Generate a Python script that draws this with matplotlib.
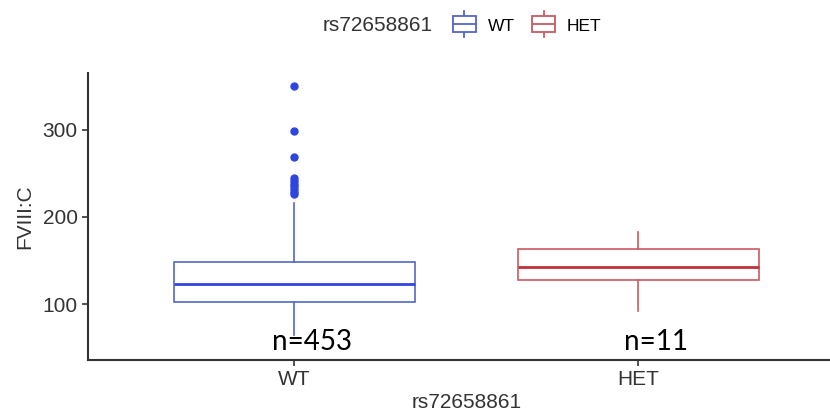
import matplotlib
matplotlib.use("Agg")
import matplotlib.pyplot as plt
from matplotlib.legend_handler import HandlerBase
from matplotlib.patches import Rectangle
from matplotlib.lines import Line2D

# data
groups = ["WT", "HET"]
counts = [453, 11]
whislo = [65, 92]
q1 = [102, 127.5]
med = [123, 143]
q3 = [148, 163]
whishi = [216, 183]
fliers_wt = [350, 299, 269, 244, 241, 238, 235, 232, 229, 226]
fliers_het = []

edge_cols = ["#5566C8", "#CC5A62"]
line_cols = ["#2F45E0", "#C0303A"]

plt.rcParams['font.family'] = ['Liberation Sans', 'DejaVu Sans']

fig = plt.figure(figsize=(8.3, 4.17), dpi=100)
ax = fig.add_axes([0.106, 0.137, 0.912, 0.688])

fliers = [fliers_wt, fliers_het]
for i in range(len(groups)):
    st = dict(whislo=whislo[i], q1=q1[i], med=med[i], q3=q3[i],
              whishi=whishi[i], fliers=fliers[i], label=groups[i])
    ax.bxp([st], positions=[i + 1], widths=0.7, patch_artist=True,
           showcaps=False,
           boxprops=dict(facecolor="white", edgecolor=edge_cols[i], linewidth=1.2),
           whiskerprops=dict(color=edge_cols[i], linewidth=1.2),
           medianprops=dict(color=line_cols[i], linewidth=2.0),
           flierprops=dict(marker="o", markersize=5, markerfacecolor=line_cols[i],
                           markeredgecolor=line_cols[i]))
    ax.text(i + 1 + 0.05, 56, "n=%d" % counts[i], ha="center", va="center",
            fontsize=20, family=["Lato", "DejaVu Sans"], color="black", zorder=5)

ax.set_xlim(0.4, 2.6)
ax.set_ylim(36, 365)
ax.set_xticks([1, 2])
ax.set_xticklabels(groups)
ax.set_yticks([100, 200, 300])
ax.tick_params(axis="both", labelsize=15, colors="#333333", length=4, width=1.2,
               labelcolor="#333333")
for s in ["top", "right"]:
    ax.spines[s].set_visible(False)
for s in ["left", "bottom"]:
    ax.spines[s].set_linewidth(1.5)
    ax.spines[s].set_color("#333333")
ax.set_ylabel("FVIII:C", fontsize=15, color="#333333", labelpad=6)
ax.set_xlabel("rs72658861", fontsize=15, color="#333333", labelpad=3)


class BoxKey(HandlerBase):
    def create_artists(self, legend, orig_handle, xd, yd, width, height, fontsize, trans):
        c = orig_handle.get_color()
        cy = yd + height / 2
        r = Rectangle((xd, cy - 0.6 * height), width, 1.2 * height,
                      facecolor="white", edgecolor=c, lw=1.3, transform=trans)
        m = Line2D([xd, xd + width], [cy, cy], color=c, lw=1.3, transform=trans)
        w1 = Line2D([xd + width / 2] * 2, [cy + 0.6 * height, cy + 1.0 * height], color=c, lw=1.3, transform=trans)
        w2 = Line2D([xd + width / 2] * 2, [cy - 1.0 * height, cy - 0.6 * height], color=c, lw=1.3, transform=trans)
        return [r, m, w1, w2]


handles = [Line2D([], [], color=edge_cols[0]), Line2D([], [], color=edge_cols[1])]
fig.text(0.389, 0.938, "rs72658861", fontsize=15, color="#333333", ha="left", va="center")
fig.legend(handles, groups, handler_map={Line2D: BoxKey()}, ncol=2,
           loc="center left", bbox_to_anchor=(0.546, 0.938), frameon=False,
           fontsize=12.5, handlelength=1.3, handleheight=0.75, columnspacing=1.0,
           handletextpad=0.7, borderaxespad=0, borderpad=0)

fig.savefig("out.png", dpi=100)
